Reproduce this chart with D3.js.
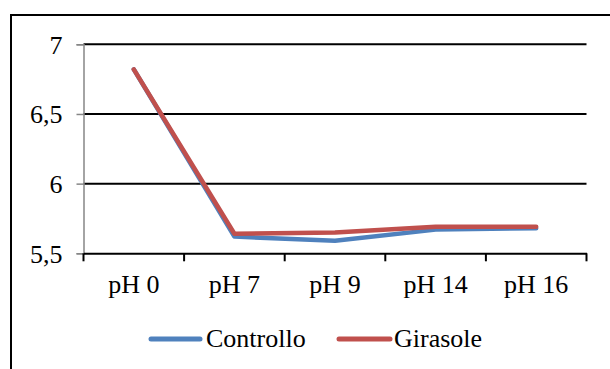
<!DOCTYPE html>
<html>
<head>
<meta charset="utf-8">
<script src="https://cdn.jsdelivr.net/npm/d3@7"></script>
<style>
  html, body { margin: 0; padding: 0; background: #fff; }
  svg { display: block; }
  text { font-family: "Liberation Serif", "Times New Roman", serif; fill: #000; }
</style>
</head>
<body>
<svg id="chart" width="610" height="369"></svg>
<script>
// pH levels tested
const categories = ["pH 0", "pH 7", "pH 9", "pH 14", "pH 16"];
// measured values per series
const controllo = [6.82, 5.62, 5.59, 5.67, 5.68];
const girasole  = [6.82, 5.64, 5.65, 5.69, 5.69];
// value axis ticks and their labels
const yTicks = [5.5, 6, 6.5, 7];
const yTickLabels = ["5,5", "6", "6,5", "7"];
const seriesNames = ["Controllo", "Girasole"];
const seriesColors = ["#4F81BD", "#C0504D"];

const svg = d3.select("#chart");

// outer frame
svg.append("rect")
  .attr("x", 11).attr("y", 15)
  .attr("width", 640).attr("height", 400)
  .attr("fill", "none").attr("stroke", "#000").attr("stroke-width", 2);

const plot = { left: 83.5, right: 586.5, top: 44.3, bottom: 253.3 };

const x = d3.scaleBand().domain(categories).range([plot.left, plot.right]);
const y = d3.scaleLinear().domain([5.5, 7]).range([plot.bottom, plot.top]);

// horizontal gridlines
svg.append("g")
  .selectAll("line")
  .data(yTicks.filter(t => t > 5.5))
  .join("line")
  .attr("x1", plot.left).attr("x2", plot.right)
  .attr("y1", d => y(d)).attr("y2", d => y(d))
  .attr("stroke", "#000").attr("stroke-width", 2);

// value axis
const yAxis = svg.append("g")
  .attr("transform", `translate(${plot.left},0)`)
  .call(d3.axisLeft(y).tickValues(yTicks)
    .tickFormat((d, i) => yTickLabels[i])
    .tickSize(7).tickPadding(14));
yAxis.select(".domain").attr("stroke", "#868686").attr("stroke-width", 1.5);
yAxis.selectAll(".tick line").attr("stroke", "#868686").attr("stroke-width", 1.5);
yAxis.selectAll(".tick text")
  .attr("font-size", 26)
  .attr("font-family", "Liberation Serif, Times New Roman, serif")
  .attr("fill", "#000")
  .attr("dy", "0.34em");

// category axis
const xAxis = svg.append("g")
  .attr("transform", `translate(0,${plot.bottom})`)
  .call(d3.axisBottom(x).tickSize(0).tickPadding(0));
xAxis.select(".domain").attr("stroke", "#000").attr("stroke-width", 2);
xAxis.selectAll(".tick text")
  .attr("font-size", 26)
  .attr("font-family", "Liberation Serif, Times New Roman, serif")
  .attr("fill", "#000")
  .attr("y", 40).attr("dy", 0);

// tick marks on category boundaries
const boundaries = categories.map(c => x(c)).concat([x.range()[1]]);
xAxis.append("g")
  .selectAll("line")
  .data(boundaries)
  .join("line")
  .attr("x1", d => d).attr("x2", d => d)
  .attr("y1", 0).attr("y2", 8)
  .attr("stroke", "#000").attr("stroke-width", 2);

// series lines
const line = d3.line()
  .x((d, i) => x(categories[i]) + x.bandwidth() / 2)
  .y(d => y(d));

[controllo, girasole].forEach((vals, k) => {
  svg.append("path")
    .datum(vals)
    .attr("d", line)
    .attr("fill", "none")
    .attr("stroke", seriesColors[k])
    .attr("stroke-width", 4.5)
    .attr("stroke-linecap", "round")
    .attr("stroke-linejoin", "round");
});

// legend
const legendItems = [
  { x1: 151, x2: 200, tx: 206 },
  { x1: 339, x2: 390, tx: 394 }
];
const legend = svg.append("g");
legendItems.forEach((it, k) => {
  legend.append("line")
    .attr("x1", it.x1).attr("x2", it.x2)
    .attr("y1", 339).attr("y2", 339)
    .attr("stroke", seriesColors[k])
    .attr("stroke-width", 5)
    .attr("stroke-linecap", "round");
  legend.append("text")
    .attr("x", it.tx).attr("y", 347)
    .attr("font-size", 26)
    .text(seriesNames[k]);
});
</script>
</body>
</html>
